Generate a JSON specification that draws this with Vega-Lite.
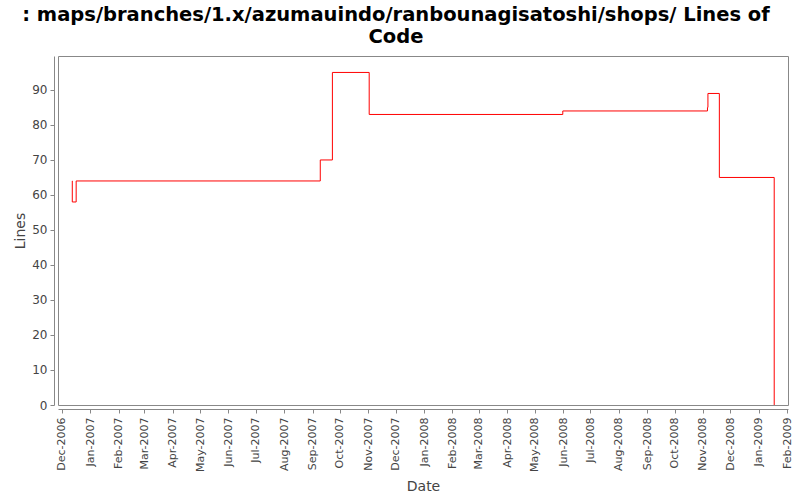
{
  "$schema": "https://vega.github.io/schema/vega-lite/v6.json",
  "autosize": "none",
  "width": 730,
  "height": 349,
  "padding": {"left": 58, "top": 56, "right": 12, "bottom": 95},
  "background": "white",
  "title": {
    "text": [": maps/branches/1.x/azumauindo/ranbounagisatoshi/shops/ Lines of", "Code"],
    "font": "DejaVu Sans",
    "fontSize": 19.5,
    "fontWeight": "bold",
    "color": "#000000",
    "anchor": "middle",
    "frame": "group",
    "dx": -27,
    "offset": 9,
    "lineHeight": 22
  },
  "config": {
    "view": {"stroke": "#888888", "strokeWidth": 1},
    "axis": {
      "labelFont": "DejaVu Sans",
      "titleFont": "DejaVu Sans",
      "labelColor": "#444444",
      "titleColor": "#444444",
      "domainColor": "#888888",
      "tickColor": "#888888",
      "grid": false,
      "titleFontWeight": "normal",
      "titleFontSize": 14
    }
  },
  "data": {
    "values": [
      {"date": "2006-12-12T00:00:00", "lines": 64},
      {"date": "2006-12-12T06:00:00", "lines": 58},
      {"date": "2006-12-16T12:00:00", "lines": 64},
      {"date": "2007-09-09T12:00:00", "lines": 70},
      {"date": "2007-09-22T18:00:00", "lines": 95},
      {"date": "2007-11-02T00:00:00", "lines": 83},
      {"date": "2008-05-31T18:00:00", "lines": 84},
      {"date": "2008-11-06T00:00:00", "lines": 85},
      {"date": "2008-11-06T12:00:00", "lines": 89},
      {"date": "2008-11-19T00:00:00", "lines": 65},
      {"date": "2009-01-18T00:00:00", "lines": 0}
    ]
  },
  "mark": {"type": "line", "interpolate": "step-after", "color": "#ff0000", "strokeWidth": 1, "clip": true},
  "encoding": {
    "x": {
      "field": "date",
      "type": "temporal",
      "title": "Date",
      "scale": {"domain": [{"year": 2006, "month": 11, "date": 26, "hours": 15}, {"year": 2009, "month": 2, "date": 2, "hours": 2}]},
      "axis": {
        "offset": 4,
        "format": "%b-%Y",
        "tickCount": {"interval": "month", "step": 1},
        "labelAngle": 270,
        "labelAlign": "right",
        "labelBaseline": "middle",
        "labelFontSize": 11,
        "labelPadding": 4,
        "tickSize": 4,
        "labelOverlap": false,
        "labelFlush": false,
        "titlePadding": 8
      }
    },
    "y": {
      "field": "lines",
      "type": "quantitative",
      "title": "Lines",
      "scale": {"domain": [0, 99.7], "nice": false, "zero": true},
      "axis": {
        "offset": 4,
        "values": [0, 10, 20, 30, 40, 50, 60, 70, 80, 90],
        "labelFontSize": 12,
        "tickSize": 4,
        "labelPadding": 3,
        "titlePadding": 4
      }
    }
  }
}
